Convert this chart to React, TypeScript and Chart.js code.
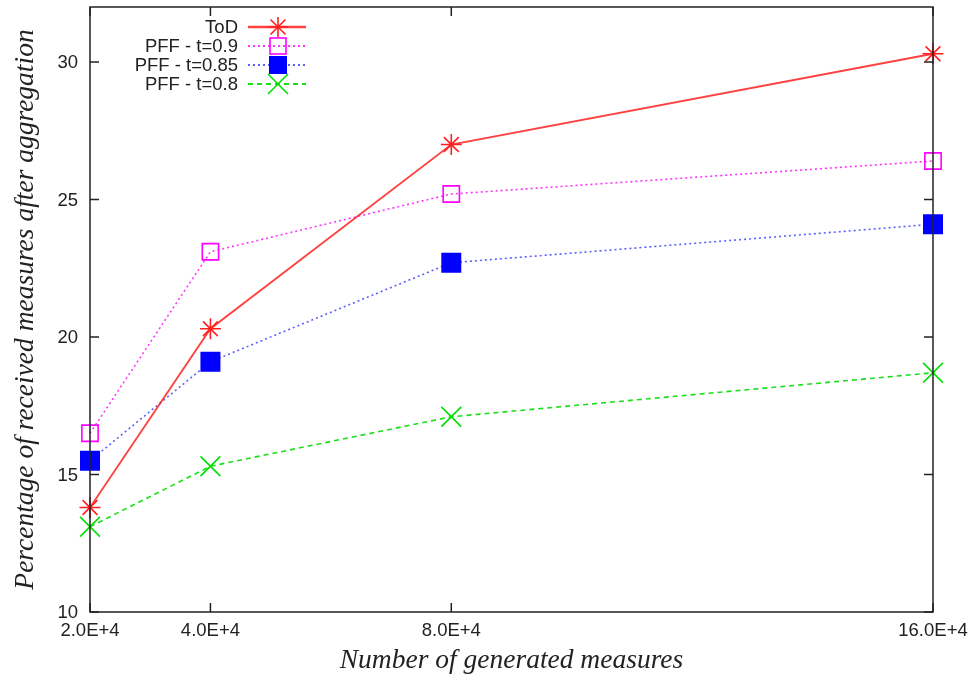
import React, { useEffect, useRef } from 'react';
import { Chart, registerables } from 'chart.js';

Chart.register(...registerables);

const xValues = [2, 4, 8, 16];
const xTickLabels = ['2.0E+4', '4.0E+4', '8.0E+4', '16.0E+4'];
const yTicks = [10, 15, 20, 25, 30];
const seriesNames = ['ToD', 'PFF - t=0.9', 'PFF - t=0.85', 'PFF - t=0.8'];
const todValues = [13.8, 20.3, 27.0, 30.3];
const pff09Values = [16.5, 23.1, 25.2, 26.4];
const pff085Values = [15.5, 19.1, 22.7, 24.1];
const pff08Values = [13.1, 15.3, 17.1, 18.7];
const xTitle = 'Number of generated measures';
const yTitle = 'Percentage of received measures after aggregation';

const colors = ['#ff2020', '#ff00ff', '#0000ff', '#00e000'];
const lineColors = ['rgba(255,30,30,0.85)', 'rgba(255,0,255,0.8)', 'rgba(40,40,255,0.75)', 'rgba(0,220,0,0.9)'];
const dashes: number[][] = [[], [2, 3], [2, 3], [5, 4]];

const TICK_FONT = '18.5px "Liberation Sans", Arial, sans-serif';
const TITLE_FONT = 'italic 27.5px "Liberation Serif", "Times New Roman", serif';

function drawMarker(ctx: CanvasRenderingContext2D, i: number, x: number, y: number) {
  ctx.save();
  ctx.setLineDash([]);
  ctx.lineWidth = 1.6;
  ctx.strokeStyle = colors[i];
  ctx.fillStyle = colors[i];
  if (i === 0) {
    const r = 10;
    const d = r * 0.75;
    ctx.beginPath();
    ctx.moveTo(x - r, y); ctx.lineTo(x + r, y);
    ctx.moveTo(x, y - r); ctx.lineTo(x, y + r);
    ctx.moveTo(x - d, y - d); ctx.lineTo(x + d, y + d);
    ctx.moveTo(x - d, y + d); ctx.lineTo(x + d, y - d);
    ctx.stroke();
  } else if (i === 1) {
    ctx.strokeRect(x - 8, y - 8, 16, 16);
  } else if (i === 2) {
    ctx.fillRect(x - 9, y - 9, 18, 18);
  } else {
    const d = 10;
    ctx.beginPath();
    ctx.moveTo(x - d, y - d); ctx.lineTo(x + d, y + d);
    ctx.moveTo(x - d, y + d); ctx.lineTo(x + d, y - d);
    ctx.stroke();
  }
  ctx.restore();
}

const framePlugin = {
  id: 'gnuplotFrame',
  afterDatasetsDraw(chart: any) {
    const ctx: CanvasRenderingContext2D = chart.ctx;
    const { left, right, top, bottom } = chart.chartArea;
    const xs = chart.scales.x;
    const ys = chart.scales.y;
    ctx.save();
    ctx.strokeStyle = '#222';
    ctx.lineWidth = 1.5;
    ctx.setLineDash([]);
    ctx.strokeRect(left, top, right - left, bottom - top);
    const tl = 9;
    ctx.beginPath();
    xValues.forEach((v) => {
      const px = xs.getPixelForValue(v);
      ctx.moveTo(px, bottom); ctx.lineTo(px, bottom - tl);
      ctx.moveTo(px, top); ctx.lineTo(px, top + tl);
    });
    yTicks.forEach((v) => {
      const py = ys.getPixelForValue(v);
      ctx.moveTo(left, py); ctx.lineTo(left + tl, py);
      ctx.moveTo(right, py); ctx.lineTo(right - tl, py);
    });
    ctx.stroke();

    // tick labels
    ctx.fillStyle = '#222';
    ctx.font = TICK_FONT;
    ctx.textBaseline = 'middle';
    ctx.textAlign = 'right';
    yTicks.forEach((v) => {
      ctx.fillText(String(v), left - 12, ys.getPixelForValue(v) + 1);
    });
    ctx.textAlign = 'center';
    xValues.forEach((v, i) => {
      ctx.fillText(xTickLabels[i], xs.getPixelForValue(v), bottom + 19);
    });

    // axis titles
    ctx.font = TITLE_FONT;
    ctx.textAlign = 'center';
    ctx.textBaseline = 'middle';
    ctx.fillText(xTitle, (left + right) / 2, 661);
    ctx.save();
    ctx.translate(26, (top + bottom) / 2);
    ctx.rotate(-Math.PI / 2);
    ctx.fillText(yTitle, 0, 0);
    ctx.restore();

    // legend
    const rowY = [27, 46, 65, 84];
    ctx.font = TICK_FONT;
    ctx.textAlign = 'right';
    ctx.textBaseline = 'middle';
    seriesNames.forEach((name, i) => {
      const y = rowY[i];
      ctx.fillStyle = '#222';
      ctx.fillText(name, 238, y + 1);
      ctx.save();
      ctx.strokeStyle = lineColors[i];
      ctx.lineWidth = i === 0 ? 2.5 : 1.8;
      ctx.setLineDash(dashes[i]);
      ctx.beginPath();
      ctx.moveTo(248, y); ctx.lineTo(306, y);
      ctx.stroke();
      ctx.restore();
      drawMarker(ctx, i, 278, y);
    });
    ctx.restore();
  },
};

export default function App() {
  const ref = useRef<HTMLCanvasElement>(null);
  useEffect(() => {
    if (!ref.current) return;
    const allValues = [todValues, pff09Values, pff085Values, pff08Values];
    const pointStyles = ['star', 'rect', 'rect', 'crossRot'];
    const radii = [10.5, 11.5, 13, 14];
    const chart = new Chart(ref.current, {
      type: 'line',
      data: {
        datasets: allValues.map((vals, i) => ({
          label: seriesNames[i],
          data: vals.map((y, j) => ({ x: xValues[j], y })),
          borderColor: lineColors[i],
          borderWidth: i === 0 ? 1.8 : 1.6,
          borderDash: dashes[i],
          pointStyle: pointStyles[i] as any,
          pointRadius: radii[i],
          pointHoverRadius: radii[i],
          pointBorderColor: colors[i],
          pointBackgroundColor: i === 2 ? colors[i] : 'rgba(0,0,0,0)',
          pointBorderWidth: 1.6,
          tension: 0,
          clip: false as any,
          fill: false,
        })),
      },
      options: {
        responsive: false,
        animation: false,
        devicePixelRatio: 1,
        layout: { autoPadding: false, padding: { top: 7, right: 40, left: 90, bottom: 67 } },
        plugins: { legend: { display: false }, tooltip: { enabled: false }, title: { display: false } },
        scales: {
          x: {
            type: 'linear',
            min: 2,
            max: 16,
            display: false,
          },
          y: {
            type: 'linear',
            min: 10,
            max: 32,
            display: false,
          },
        },
      },
      plugins: [framePlugin],
    });
    return () => chart.destroy();
  }, []);
  return (
    <div style={{ position: 'fixed', left: 0, top: 0, width: 973, height: 679, background: '#fff' }}>
      <canvas ref={ref} width={973} height={679} style={{ display: 'block' }} />
    </div>
  );
}
